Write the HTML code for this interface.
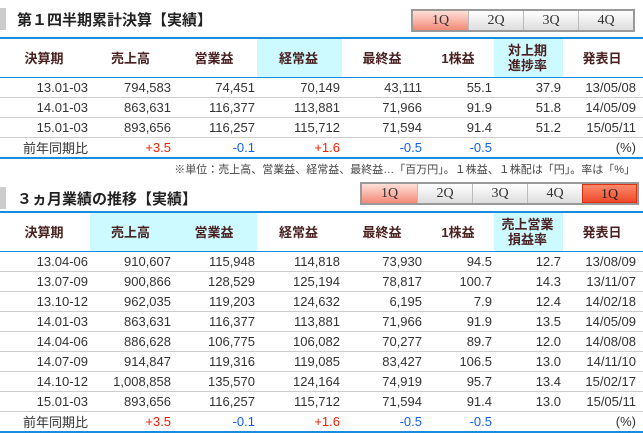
<!DOCTYPE html>
<html><head><meta charset="utf-8"><style>
body{margin:0;width:643px;height:432px;background:#fff;font-family:"Liberation Sans","Noto Sans CJK JP",sans-serif;position:relative;overflow:hidden;color:#333}
.ttl{position:absolute;left:0;width:200px;height:22px;border-left:6px solid #ccc;}
.ttl span{position:absolute;left:11px;top:1px;font-size:15px;font-weight:bold;color:#222;white-space:nowrap}
.tabs{position:absolute;display:flex;border:2px solid #999;}
.tabs div{width:55px;height:19px;line-height:19px;text-align:center;font-family:"Liberation Serif",serif;font-size:14px;color:#333;background:linear-gradient(#fff,#ddd);border-left:1px solid #bbb;box-sizing:border-box}
.tabs div:first-child{border-left:none}
.tabs .a{background:linear-gradient(#ffe0d8,#f28a78)}
.tabs .b{background:linear-gradient(#ff8a6a,#ee4a2a);border:1px solid #e03010;color:#222}
table{position:absolute;left:0;width:643px;border-collapse:collapse;table-layout:fixed;border-top:2px solid #1a8ce0;border-bottom:2px solid #1a8ce0}
td,th{padding:0 2px 0 0;text-align:right;font-size:13px;height:19px;border-bottom:1px solid #ccc;white-space:nowrap;font-weight:normal}
td:last-child{padding-right:7px}
th{height:38px;text-align:center;font-weight:bold;color:#4a2020;border-bottom:1px solid #1a8ce0;line-height:15px;font-size:13px}
th:last-child{padding-right:2px}
.s{background:#ccfaff}
.r{color:#f02000}.bl{color:#1060f0}
.note{position:absolute;top:161px;right:8px;font-size:11px;color:#444}
</style></head><body>
<div class="ttl" style="top:8px"><span>第１四半期累計決算【実績】</span></div>
<div class="tabs" style="left:411px;top:9px"><div class="a">1Q</div><div>2Q</div><div>3Q</div><div>4Q</div></div>
<table style="top:37px">
<colgroup><col style="width:90px"><col style="width:83px"><col style="width:84px"><col style="width:85px"><col style="width:82px"><col style="width:70px"><col style="width:69px"><col style="width:80px"></colgroup>
<tr><th>決算期</th><th>売上高</th><th>営業益</th><th class="s">経常益</th><th>最終益</th><th>1株益</th><th class="s">対上期<br>進捗率</th><th>発表日</th></tr>
<tr><td>13.01-03</td><td>794,583</td><td>74,451</td><td>70,149</td><td>43,111</td><td>55.1</td><td>37.9</td><td>13/05/08</td></tr>
<tr><td>14.01-03</td><td>863,631</td><td>116,377</td><td>113,881</td><td>71,966</td><td>91.9</td><td>51.8</td><td>14/05/09</td></tr>
<tr><td>15.01-03</td><td>893,656</td><td>116,257</td><td>115,712</td><td>71,594</td><td>91.4</td><td>51.2</td><td>15/05/11</td></tr>
<tr><td>前年同期比</td><td class="r">+3.5</td><td class="bl">-0.1</td><td class="r">+1.6</td><td class="bl">-0.5</td><td class="bl">-0.5</td><td></td><td>(%)</td></tr>
</table>
<div class="note">※単位：売上高、営業益、経常益、最終益…「百万円」。１株益、１株配は「円」。率は「%」</div>
<div class="ttl" style="top:187px"><span>３ヵ月業績の推移【実績】</span></div>
<div class="tabs" style="left:360px;top:182px"><div class="a">1Q</div><div>2Q</div><div>3Q</div><div>4Q</div><div class="b">1Q</div></div>
<table style="top:211px">
<colgroup><col style="width:90px"><col style="width:83px"><col style="width:84px"><col style="width:85px"><col style="width:82px"><col style="width:70px"><col style="width:69px"><col style="width:80px"></colgroup>
<tr><th>決算期</th><th class="s">売上高</th><th class="s">営業益</th><th>経常益</th><th>最終益</th><th>1株益</th><th class="s">売上営業<br>損益率</th><th>発表日</th></tr>
<tr><td>13.04-06</td><td>910,607</td><td>115,948</td><td>114,818</td><td>73,930</td><td>94.5</td><td>12.7</td><td>13/08/09</td></tr>
<tr><td>13.07-09</td><td>900,866</td><td>128,529</td><td>125,194</td><td>78,817</td><td>100.7</td><td>14.3</td><td>13/11/07</td></tr>
<tr><td>13.10-12</td><td>962,035</td><td>119,203</td><td>124,632</td><td>6,195</td><td>7.9</td><td>12.4</td><td>14/02/18</td></tr>
<tr><td>14.01-03</td><td>863,631</td><td>116,377</td><td>113,881</td><td>71,966</td><td>91.9</td><td>13.5</td><td>14/05/09</td></tr>
<tr><td>14.04-06</td><td>886,628</td><td>106,775</td><td>106,082</td><td>70,277</td><td>89.7</td><td>12.0</td><td>14/08/08</td></tr>
<tr><td>14.07-09</td><td>914,847</td><td>119,316</td><td>119,085</td><td>83,427</td><td>106.5</td><td>13.0</td><td>14/11/10</td></tr>
<tr><td>14.10-12</td><td>1,008,858</td><td>135,570</td><td>124,164</td><td>74,919</td><td>95.7</td><td>13.4</td><td>15/02/17</td></tr>
<tr><td>15.01-03</td><td>893,656</td><td>116,257</td><td>115,712</td><td>71,594</td><td>91.4</td><td>13.0</td><td>15/05/11</td></tr>
<tr><td>前年同期比</td><td class="r">+3.5</td><td class="bl">-0.1</td><td class="r">+1.6</td><td class="bl">-0.5</td><td class="bl">-0.5</td><td></td><td>(%)</td></tr>
</table>
</body></html>
